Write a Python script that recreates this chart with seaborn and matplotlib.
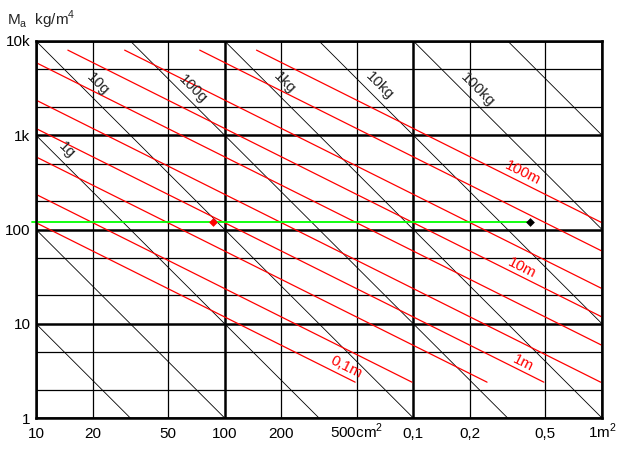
import numpy as np
import pandas as pd
import matplotlib.pyplot as plt
import seaborn as sns

# axes: area S in cm2, acoustic mass Ma in kg/m4
x_ticks = [10, 20, 50, 100, 200, 500, 1000, 2000, 5000, 10000]
x_labels = ['10', '20', '50', '100', '200', r'500cm$^{\mathregular{2}}$', '0,1', '0,2', '0,5',
            r'1m$^{\mathregular{2}}$']
y_ticks = [1, 10, 100, 1000, 10000]
y_labels = ['1', '10', '100', '1k', '10k']
y_minor = [2, 5, 20, 50, 200, 500, 2000, 5000]

# black lines: constant mass m (kg), Ma = m / S^2
masses = [1e-5, 1e-4, 1e-3, 1e-2, 1e-1, 1, 10, 100, 1000]
mass_labels = ['1g', '10g', '100g', '1kg', '10kg', '100kg']
mass_label_pos = [(14.6, 695), (21.3, 3480), (67.7, 3080), (207, 3570), (661, 3320), (2183, 3010)]

# red lines: tube length L (m), Ma = rho * L / S
rho = 1.18
lengths = [0.1, 0.2, 0.5, 1, 2, 5, 10, 20, 50, 100]
length_labels = ['0,1m', '1m', '10m', '100m']
length_label_pos = [(443, 3.47), (3820, 3.83), (3776, 39), (3820, 396)]
ma_min, ma_max = 2.4, 8000

# working point
ma_point = 120
s_red = 86.5
s_black = 4160

rows = []
for m in masses:
    for s in (x_ticks[0], x_ticks[-1]):
        rows.append(dict(line=f'{m:g}', S=s, Ma=m / (s * 1e-4) ** 2))
mass_df = pd.DataFrame(rows)

rows = []
for L in lengths:
    s_lo = max(rho * L / ma_max, 1e-3)
    s_hi = min(rho * L / ma_min, 1.0)
    for s in (s_lo, s_hi):
        rows.append(dict(line=f'{L:g}', S=s * 1e4, Ma=rho * L / s))
tube_df = pd.DataFrame(rows)

sns.set_style('white')
plt.rcParams['font.family'] = ['Liberation Sans', 'DejaVu Sans']
plt.rcParams['font.size'] = 11

fig, ax = plt.subplots(figsize=(6.27, 4.51), dpi=100)
fig.subplots_adjust(left=36/627, right=602/627, bottom=33/451, top=410/451)
ax.set_xscale('log')
ax.set_yscale('log')

# grid, thick at decades
for x in x_ticks:
    thick = np.isclose(np.log10(x) % 1, 0)
    ax.axvline(x, color='black', lw=1.8 if thick else 0.9, zorder=1)
for y in y_ticks + y_minor:
    thick = np.isclose(np.log10(y) % 1, 0)
    ax.axhline(y, color='black', lw=1.8 if thick else 0.9, zorder=1)

sns.lineplot(data=mass_df, x='S', y='Ma', units='line', estimator=None, sort=False,
             color='black', lw=0.6, ax=ax, zorder=2)
sns.lineplot(data=tube_df, x='S', y='Ma', units='line', estimator=None, sort=False,
             color='red', lw=0.9, ax=ax, zorder=3)

ax.set_xlim(x_ticks[0], x_ticks[-1])
ax.set_ylim(y_ticks[0], y_ticks[-1])

ax.plot([x_ticks[0] * 0.95, s_black], [ma_point, ma_point], color='#00ff00', lw=1.3,
        clip_on=False, zorder=4)
sns.scatterplot(x=[s_red], y=[ma_point], color='red', marker='D', s=20, linewidth=0, ax=ax, zorder=5)
sns.scatterplot(x=[s_black], y=[ma_point], color='black', marker='D', s=20, linewidth=0, ax=ax, zorder=5)

ax.set_xticks(x_ticks, x_labels)
ax.set_yticks(y_ticks, y_labels)
ax.set_yticks([], minor=True)
ax.set_xticks([], minor=True)
ax.tick_params(axis='both', length=0, labelsize=11, colors='black')
ax.tick_params(axis='x', pad=14.5)
ax.tick_params(axis='y', pad=4)
for lbl in ax.get_xticklabels():
    lbl.set_verticalalignment('baseline')
ax.set_xlabel('')
ax.set_ylabel('')
for sp in ax.spines.values():
    sp.set_visible(True)
    sp.set_color('black')
    sp.set_linewidth(1.8)
    sp.set_zorder(6)

# label angles from the axes scaling
def screen_angle(p1, p2):
    a = ax.transData.transform(p1)
    b = ax.transData.transform(p2)
    return np.degrees(np.arctan2(b[1] - a[1], b[0] - a[0]))

ang_mass = screen_angle((10, 10000), (100, 100))
ang_tube = screen_angle((10, 1000), (100, 100))

for t, (s, m) in zip(mass_labels, mass_label_pos):
    ax.text(s, m, t, rotation=ang_mass, ha='center', va='center', fontsize=11, zorder=7)
for t, (s, m) in zip(length_labels, length_label_pos):
    ax.text(s, m, t, rotation=ang_tube, ha='center', va='center', fontsize=11,
            color='red', zorder=7)

fig.text(7/627, 1 - 25/451, r'M$_{\mathregular{a}}$  kg/m$^{\mathregular{4}}$',
         ha='left', va='baseline', fontsize=11)

fig.savefig('out.png', dpi=100)
